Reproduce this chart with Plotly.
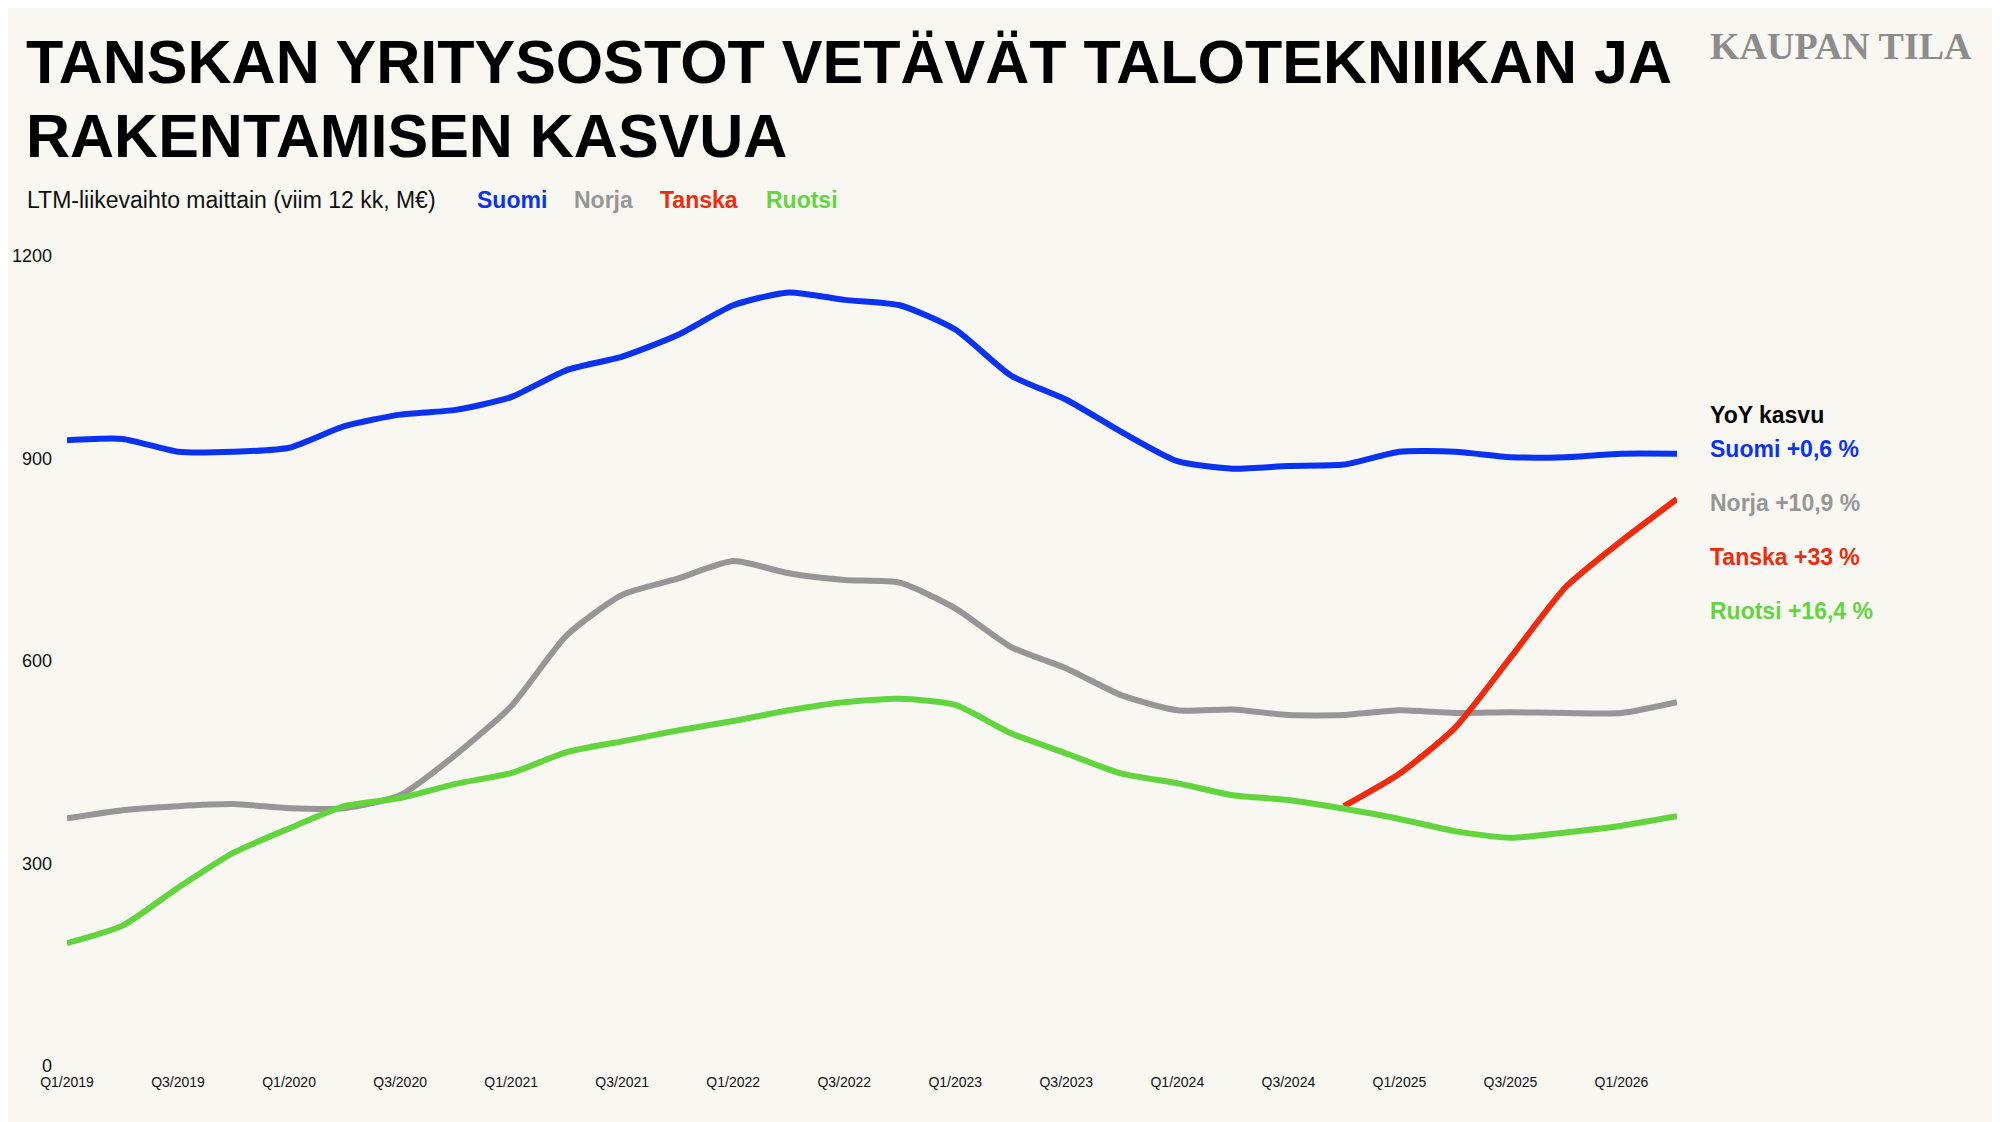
import plotly.graph_objects as go

# data (LTM revenue, M EUR)
quarters = [f"Q{q}/{y}" for y in range(2019, 2027) for q in (1, 2, 3, 4)][:30]
suomi = [927, 929, 910, 910, 916, 948, 965, 972, 991, 1031, 1051, 1083, 1127, 1146, 1135,
         1127, 1091, 1023, 987, 939, 896, 885, 889, 891, 910, 910, 902, 902, 907, 907]
norja = [367, 379, 385, 388, 382, 382, 401, 461, 533, 638, 698, 722, 748, 730, 720,
         716, 678, 621, 589, 549, 527, 528, 520, 520, 527, 523, 524, 523, 523, 539]
ruotsi = [182, 208, 264, 316, 352, 385, 397, 418, 434, 465, 481, 497, 511, 527, 539,
          544, 535, 493, 463, 433, 419, 401, 394, 381, 366, 348, 338, 346, 356, 370]
tanska = [None] * 23 + [385, 433, 501, 605, 710, 778, 840]

tick_labels = quarters[::2]
yoy_labels = ["Suomi +0,6 %", "Norja +10,9 %", "Tanska +33 %", "Ruotsi +16,4 %"]
names = ["Suomi", "Norja", "Tanska", "Ruotsi"]

colors = {"Suomi": "#0a32f2", "Norja": "#969696", "Tanska": "#f02a0c", "Ruotsi": "#62d43e"}
BG = "#f8f7f2"
SANS = "Liberation Sans, Arial, sans-serif"

# page body has an 8px margin, so the figure is drawn 8px in and 8px smaller
OFF = 8
W, H = 2000 - OFF, 1122 - OFF
L, R, T, B = 67, 1677, 256, 1066   # plot area in page pixels


def px(x, y):
    # page pixel position -> paper coordinates
    return (x - L) / (R - L), (B - y) / (B - T)


fig = go.Figure()
for name, vals in zip(names, [suomi, norja, tanska, ruotsi]):
    fig.add_trace(go.Scatter(x=quarters, y=vals, name=name, mode="lines",
                             line=dict(color=colors[name], width=6, shape="spline", smoothing=0.6),
                             hoverinfo="skip"))


def note(text, x, y, size, color="#111111", family=SANS, xanchor="left"):
    xp, yp = px(x, y)
    fig.add_annotation(text=text, x=xp, y=yp, xref="paper", yref="paper",
                       xanchor=xanchor, yanchor="middle", showarrow=False,
                       font=dict(size=size, color=color, family=family))


note("<b>TANSKAN YRITYSOSTOT VETÄVÄT TALOTEKNIIKAN JA</b>", 24, 62, 61, "#000000")
note("<b>RAKENTAMISEN KASVUA</b>", 24, 136, 61, "#000000")
note("LTM-liikevaihto maittain (viim 12 kk, M€)", 25, 200, 23)
for name, x in zip(names, [475, 572, 658, 764]):
    note(f"<b>{name}</b>", x, 200, 23, colors[name])

note("<b>KAUPAN TILA</b>", 1708, 46, 38, "#8c8c8c", "Liberation Serif, Times New Roman, serif")

note("<b>YoY kasvu</b>", 1708, 415, 23, "#000000")
for name, lab, y in zip(names, yoy_labels, [449, 503, 557, 611]):
    note(f"<b>{lab}</b>", 1708, y, 23, colors[name])

fig.update_layout(
    width=W, height=H,
    margin=dict(l=L - OFF, r=W - (R - OFF), t=T - OFF, b=H - (B - OFF)),
    paper_bgcolor=BG, plot_bgcolor=BG,
    showlegend=False,
    font=dict(family=SANS, color="#111111"),
)
fig.update_xaxes(type="category", range=[0, 29], tickvals=tick_labels, ticktext=tick_labels,
                 showgrid=False, zeroline=False, showline=False, ticks="", automargin=False,
                 ticklabelstandoff=6, tickfont=dict(size=14, color="#111111"))
fig.update_yaxes(range=[0, 1200], tickvals=[0, 300, 600, 900, 1200],
                 showgrid=False, zeroline=False, showline=False, ticks="", automargin=False,
                 ticklabelstandoff=14, tickfont=dict(size=18, color="#111111"))

fig.write_html("out.html")
